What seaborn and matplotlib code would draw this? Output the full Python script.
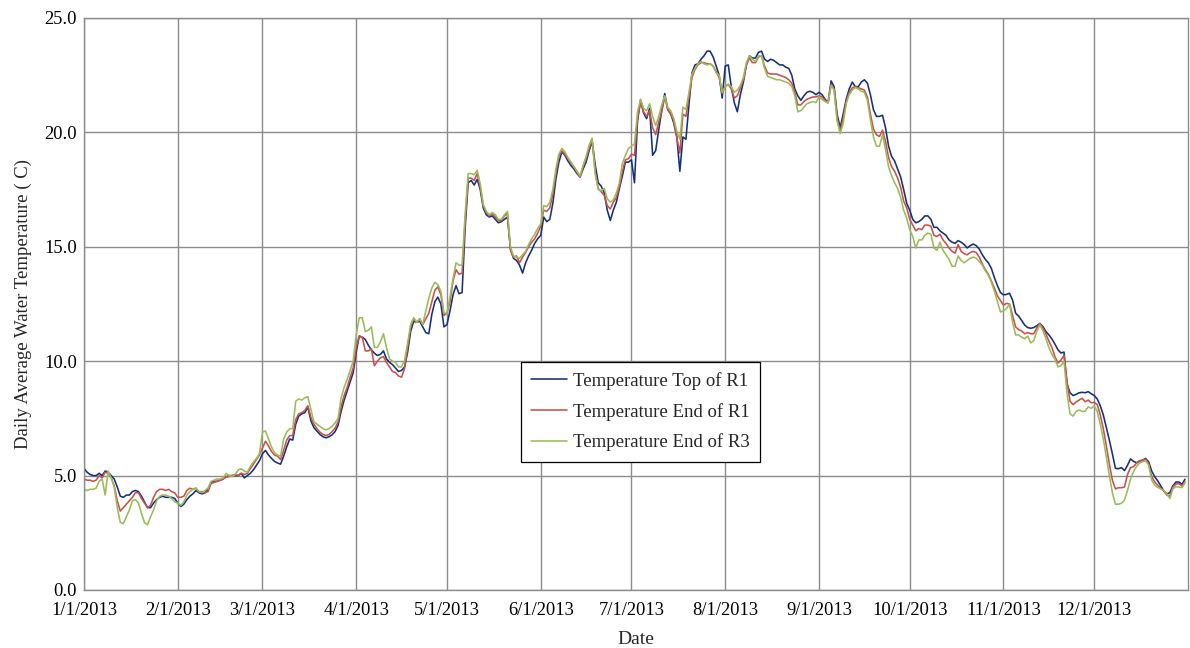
import numpy as np
import pandas as pd
import matplotlib
matplotlib.use("Agg")
import matplotlib.pyplot as plt
import seaborn as sns

# Daily average water temperatures for 2013 (degrees C), one value per day
START_DATE = "2013-01-01"
END_DATE = "2014-01-01"

SERIES_NAMES = ["Temperature Top of R1", "Temperature End of R1", "Temperature End of R3"]
SERIES_COLORS = ["#13307B", "#C8504D", "#9BBB59"]

MONTH_LABELS = ["1/1/2013", "2/1/2013", "3/1/2013", "4/1/2013", "5/1/2013", "6/1/2013",
                "7/1/2013", "8/1/2013", "9/1/2013", "10/1/2013", "11/1/2013", "12/1/2013"]
Y_TICKS = [0.0, 5.0, 10.0, 15.0, 20.0, 25.0]

TOP_R1 = [
    # Jan
    5.32, 5.15, 5.05, 5.0, 5.0, 5.1, 5.0, 5.2, 5.15, 5.0, 4.85, 4.5, 4.1, 4.05, 4.15, 4.15,
    4.3, 4.35, 4.3, 4.1, 3.85, 3.6, 3.6, 3.8, 3.95, 4.05, 4.1, 4.05, 4.05, 4.05, 4.0,
    # Feb
    3.8, 3.65, 3.75, 3.95, 4.1, 4.2, 4.35, 4.25, 4.2, 4.25, 4.4, 4.7, 4.75, 4.75, 4.8, 4.85,
    4.95, 5.0, 5.0, 5.0, 5.0, 5.1, 4.9, 5.0, 5.1, 5.25, 5.45, 5.65,
    # Mar
    5.95, 6.1, 5.9, 5.75, 5.62, 5.55, 5.5, 5.85, 6.25, 6.6, 6.55, 7.25, 7.6, 7.7, 7.75, 8.0,
    7.4, 7.1, 6.95, 6.8, 6.7, 6.65, 6.7, 6.78, 6.92, 7.2, 7.8, 8.3, 8.7, 9.1, 9.5,
    # Apr
    10.4, 11.1, 11.05, 10.95, 10.7, 10.5, 10.35, 10.25, 10.3, 10.45, 10.1, 9.95, 9.85, 9.7, 9.55,
    9.6, 9.75, 10.4, 11.3, 11.75, 11.7, 11.75, 11.5, 11.25, 11.2, 12.05, 12.6, 12.8, 12.5, 11.5,
    # May
    11.6, 12.2, 12.9, 13.3, 12.95, 13.0, 15.8, 17.8, 17.9, 17.7, 17.95, 17.5, 16.7, 16.4, 16.3,
    16.35, 16.2, 16.05, 16.1, 16.2, 16.3, 14.9, 14.5, 14.4, 14.2, 13.85, 14.3, 14.6, 14.85, 15.15, 15.35,
    # Jun
    15.5, 16.3, 16.1, 16.2, 16.9, 17.95, 18.7, 19.15, 19.0, 18.75, 18.55, 18.4, 18.2, 18.05, 18.4,
    18.7, 19.2, 19.6, 18.6, 17.8, 17.65, 17.35, 16.6, 16.15, 16.6, 16.95, 17.55, 18.1, 18.7, 18.7,
    # Jul
    18.8, 17.8, 20.5, 21.4, 20.85, 20.6, 21.05, 19.0, 19.2, 20.1, 20.95, 21.7, 21.0, 20.8, 20.4,
    19.8, 18.3, 19.8, 19.7, 21.2, 22.6, 22.95, 23.0, 23.2, 23.35, 23.55, 23.55, 23.3, 22.9, 22.5, 21.5,
    # Aug
    22.9, 22.95, 22.0, 21.3, 20.9, 21.65, 22.2, 22.95, 23.35, 23.25, 23.25, 23.5, 23.55, 23.2, 23.1,
    23.2, 23.15, 23.05, 22.95, 22.95, 22.85, 22.8, 22.5, 21.9, 21.6, 21.4, 21.6, 21.75, 21.8, 21.75, 21.65,
    # Sep
    21.75, 21.65, 21.45, 21.3, 22.25, 22.0, 20.8, 20.2, 20.8, 21.45, 21.9, 22.2, 22.0, 22.0, 22.2,
    22.3, 22.15, 21.65, 21.0, 20.7, 20.7, 20.75, 20.2, 19.4, 18.95, 18.75, 18.4, 18.05, 17.5, 16.9,
    # Oct
    16.6, 16.2, 16.05, 16.1, 16.2, 16.35, 16.35, 16.2, 15.85, 15.85, 15.7, 15.6, 15.5, 15.3, 15.2,
    15.15, 15.27, 15.2, 15.1, 14.95, 15.05, 15.12, 15.05, 14.9, 14.65, 14.45, 14.3, 14.05, 13.65, 13.3, 13.0,
    # Nov
    12.9, 12.92, 12.97, 12.67, 12.1, 11.97, 11.78, 11.58, 11.47, 11.44, 11.47, 11.55, 11.65, 11.52, 11.3,
    11.15, 10.97, 10.75, 10.5, 10.36, 10.4, 9.0, 8.62, 8.5, 8.55, 8.62, 8.64, 8.62, 8.67, 8.58,
    # Dec
    8.5, 8.35, 8.05, 7.65, 7.1, 6.55, 5.95, 5.32, 5.3, 5.35, 5.22, 5.45, 5.73, 5.62, 5.56, 5.63,
    5.67, 5.75, 5.6, 5.2, 4.95, 4.77, 4.55, 4.33, 4.2, 4.25, 4.55, 4.72, 4.72, 4.62, 4.84,
]

END_R1 = [
    # Jan
    4.85, 4.8, 4.8, 4.75, 4.8, 5.0, 4.9, 5.15, 5.1, 4.9, 4.55, 3.9, 3.45, 3.6, 3.75, 3.9,
    4.05, 4.25, 4.25, 4.0, 3.8, 3.6, 3.7, 4.05, 4.3, 4.4, 4.4, 4.35, 4.4, 4.3, 4.25,
    # Feb
    4.05, 4.05, 4.1, 4.35, 4.45, 4.4, 4.45, 4.3, 4.3, 4.25, 4.3, 4.65, 4.7, 4.75, 4.8, 4.85,
    4.95, 4.95, 5.0, 5.05, 5.0, 5.1, 5.05, 5.1, 5.3, 5.5, 5.7, 5.9,
    # Mar
    6.2, 6.5, 6.3, 6.05, 5.9, 5.85, 5.7, 6.1, 6.55, 6.75, 6.75, 7.45, 7.7, 7.75, 7.85, 8.05,
    7.55, 7.25, 7.05, 6.9, 6.8, 6.75, 6.8, 6.92, 7.07, 7.35, 8.0, 8.5, 8.85, 9.3, 9.7,
    # Apr
    10.6, 11.1, 11.05, 10.45, 10.45, 10.55, 9.8, 10.0, 10.15, 10.2, 9.95, 9.75, 9.55, 9.5, 9.35,
    9.3, 9.7, 10.6, 11.5, 11.85, 11.7, 11.85, 11.6, 11.85, 12.1, 12.6, 13.1, 13.25, 12.9, 12.0,
    # May
    12.1, 12.6, 13.5, 14.0, 13.8, 13.85, 16.1, 18.0, 18.0, 17.9, 18.2, 17.6, 16.8, 16.5, 16.35,
    16.45, 16.3, 16.15, 16.15, 16.35, 16.45, 14.85, 14.55, 14.6, 14.3, 14.55, 14.75, 15.0, 15.2, 15.35, 15.6,
    # Jun
    15.9, 16.6, 16.55, 16.7, 17.3, 18.2, 18.95, 19.2, 19.05, 18.85, 18.65, 18.5, 18.25, 18.05, 18.5,
    18.85, 19.3, 19.65, 18.3, 17.55, 17.4, 17.25, 16.8, 16.65, 16.95, 17.15, 17.65, 18.3, 18.8, 18.85,
    # Jul
    19.05, 19.0, 20.6, 21.35, 20.9, 20.7, 20.95, 20.2, 19.9, 20.45, 20.9, 21.55, 21.0, 20.8, 20.5,
    19.75, 19.1, 20.8, 20.7, 21.55, 22.4, 22.75, 22.95, 23.05, 23.05, 23.0, 23.0, 22.9, 22.65, 22.4, 21.7,
    # Aug
    22.0, 22.1, 21.9, 21.5, 21.6, 21.95, 22.3, 22.95, 23.25, 23.05, 23.05, 23.3, 23.35, 22.9, 22.6,
    22.55, 22.55, 22.55, 22.5, 22.45, 22.4, 22.3, 22.15, 21.75, 21.2, 21.2, 21.35, 21.45, 21.5, 21.55, 21.55,
    # Sep
    21.6, 21.55, 21.4, 21.3, 22.1, 21.9, 20.6, 20.05, 20.6, 21.35, 21.75, 21.95, 22.0, 21.95, 21.9,
    21.85, 21.55, 20.8, 20.15, 19.9, 19.82, 20.1, 19.6, 18.9, 18.5, 18.3, 18.0, 17.6, 17.0, 16.7,
    # Oct
    16.2, 15.95, 15.7, 15.8, 15.75, 15.95, 15.95, 15.9, 15.5, 15.45, 15.55, 15.3, 15.15, 14.95, 14.8,
    14.72, 15.1, 14.8, 14.7, 14.65, 14.75, 14.8, 14.75, 14.55, 14.25, 14.0, 13.8, 13.5, 13.2, 12.85, 12.65,
    # Nov
    12.45, 12.53, 12.5, 12.0, 11.5, 11.38, 11.32, 11.2, 11.25, 11.2, 11.2, 11.45, 11.65, 11.45, 11.2,
    10.88, 10.6, 10.2, 9.92, 10.05, 10.25, 9.1, 8.25, 8.1, 8.22, 8.3, 8.38, 8.23, 8.3, 8.18,
    # Dec
    8.2, 8.1, 7.65, 7.05, 6.3, 5.5, 4.8, 4.42, 4.47, 4.47, 4.5, 5.05, 5.35, 5.39, 5.55, 5.65,
    5.68, 5.72, 5.5, 4.95, 4.72, 4.58, 4.45, 4.33, 4.15, 4.1, 4.5, 4.63, 4.65, 4.55, 4.74,
]

END_R3 = [
    # Jan
    4.4, 4.35, 4.4, 4.4, 4.45, 4.75, 4.85, 4.15, 5.2, 4.9, 4.5, 3.6, 2.95, 2.9, 3.2, 3.5,
    3.9, 3.95, 3.8, 3.35, 2.95, 2.85, 3.2, 3.5, 3.9, 4.1, 4.15, 4.15, 4.1, 4.0, 3.85,
    # Feb
    3.8, 3.7, 3.85, 4.15, 4.3, 4.4, 4.45, 4.3, 4.25, 4.35, 4.45, 4.75, 4.8, 4.85, 4.85, 4.9,
    5.1, 5.0, 4.95, 5.05, 5.25, 5.3, 5.2, 5.15, 5.4, 5.6, 5.75, 5.95,
    # Mar
    6.9, 6.95, 6.6, 6.25, 6.0, 5.9, 5.85, 6.6, 6.9, 7.05, 7.05, 8.25, 8.35, 8.3, 8.4, 8.45,
    7.9, 7.35, 7.25, 7.15, 7.05, 7.0, 7.05, 7.15, 7.3, 7.5, 8.4, 8.85, 9.2, 9.6, 10.0,
    # Apr
    11.15, 11.9, 11.9, 11.3, 11.35, 11.5, 10.6, 10.6, 10.85, 11.2, 10.6, 10.1, 10.0, 9.95, 9.75,
    9.75, 10.05, 10.8, 11.6, 11.9, 11.7, 11.85, 11.6, 12.2, 12.75, 13.2, 13.45, 13.35, 13.05, 12.1,
    # May
    12.1, 12.8, 13.6, 14.3, 14.2, 14.2, 16.4, 18.2, 18.2, 18.15, 18.35, 17.75, 16.85, 16.55, 16.4,
    16.5, 16.4, 16.2, 16.2, 16.4, 16.55, 15.0, 14.6, 14.55, 14.5, 14.65, 14.8, 15.1, 15.35, 15.55, 15.8,
    # Jun
    16.0, 16.8, 16.75, 16.95, 17.5, 18.4, 19.05, 19.3, 19.15, 18.9, 18.7, 18.5, 18.3, 18.1, 18.55,
    18.95, 19.45, 19.75, 18.2, 17.5, 17.45, 17.55, 17.1, 16.95, 17.05, 17.35, 17.8, 18.65, 19.0, 19.3,
    # Jul
    19.4, 19.5, 20.9, 21.45, 21.05, 20.95, 21.25, 20.7, 20.3, 20.7, 21.2, 21.6, 21.1, 20.95, 20.6,
    20.05, 19.7, 21.1, 21.0, 21.75, 22.55, 22.8, 23.0, 23.1, 23.0, 22.95, 23.0, 22.9, 22.6, 22.5, 21.75,
    # Aug
    22.0, 22.1, 22.0, 21.75, 21.85, 22.05, 22.4, 23.05, 23.35, 23.2, 23.1, 23.35, 23.35, 22.8, 22.45,
    22.4, 22.35, 22.3, 22.3, 22.25, 22.2, 22.15, 22.0, 21.6, 20.9, 20.95, 21.1, 21.25, 21.3, 21.35, 21.3,
    # Sep
    21.55, 21.45, 21.35, 21.3, 22.05, 21.85, 20.5, 19.95, 20.4, 21.25, 21.65, 21.85, 21.95, 21.9, 21.8,
    21.75, 21.4, 20.55, 19.8, 19.4, 19.4, 19.9, 19.25, 18.5, 18.1, 17.8, 17.55, 17.15, 16.6, 16.25,
    # Oct
    15.75, 15.45, 14.95, 15.3, 15.3, 15.5, 15.6, 15.55, 14.95, 14.85, 15.2, 14.85, 14.65, 14.45, 14.15,
    14.15, 14.6, 14.4, 14.3, 14.4, 14.5, 14.55, 14.5, 14.35, 14.2, 13.95, 13.75, 13.45, 13.05, 12.6, 12.15,
    # Nov
    12.2, 12.3, 12.5, 11.7, 11.15, 11.15, 11.05, 10.98, 11.1, 10.8, 10.9, 11.3, 11.58, 11.35, 11.0,
    10.6, 10.3, 10.1, 9.75, 9.8, 10.0, 8.6, 7.7, 7.6, 7.8, 7.87, 7.8, 7.82, 8.0, 7.94,
    # Dec
    8.05, 7.8, 7.25, 6.6, 5.8, 5.0, 4.25, 3.75, 3.75, 3.79, 3.93, 4.35, 4.85, 5.18, 5.4, 5.55,
    5.61, 5.65, 5.45, 4.8, 4.58, 4.48, 4.42, 4.35, 4.2, 4.0, 4.42, 4.52, 4.5, 4.47, 4.68,
]

n_days = len(TOP_R1)
dates = pd.date_range(START_DATE, periods=n_days, freq="D")
df = pd.DataFrame({
    "Date": np.tile(dates, 3),
    "Temperature": TOP_R1 + END_R1 + END_R3,
    "Series": np.repeat(SERIES_NAMES, n_days),
})

sns.set_theme(style="white")
plt.rcParams["font.family"] = ["Liberation Serif", "DejaVu Serif"]

fig = plt.figure(figsize=(11.9, 6.48), dpi=100)
ax = fig.add_axes([84 / 1190, 1 - 590 / 648, 1104 / 1190, 572 / 648])

sns.lineplot(data=df, x="Date", y="Temperature", hue="Series", hue_order=SERIES_NAMES,
             palette=SERIES_COLORS, linewidth=1.15, ax=ax)

month_ticks = pd.to_datetime(MONTH_LABELS, format="%m/%d/%Y")
ax.set_xlim(pd.Timestamp(START_DATE), pd.Timestamp(END_DATE))
ax.set_ylim(Y_TICKS[0], Y_TICKS[-1])
ax.set_xticks(month_ticks)
ax.set_xticklabels(MONTH_LABELS, fontsize=13.3, color="black")
ax.set_yticks(Y_TICKS)
ax.set_yticklabels([f"{v:.1f}" for v in Y_TICKS], fontsize=13.3, color="black")
ax.tick_params(axis="both", length=3, width=0.8, color="#808080")
ax.tick_params(axis="y", pad=2)
ax.tick_params(axis="x", pad=5.5)

ax.grid(True, color="#8c8c8c", linewidth=1.0)
ax.set_axisbelow(True)
for side in ["left", "bottom", "right", "top"]:
    ax.spines[side].set_color("#8c8c8c")
    ax.spines[side].set_linewidth(1.0)

ax.set_xlabel("Date", fontsize=14, labelpad=9)
ax.set_ylabel("Daily Average Water Temperature ( C)", fontsize=13.5, labelpad=9)

handles, labels = ax.get_legend_handles_labels()
leg = ax.legend(handles, labels, loc="upper left", bbox_to_anchor=(0.396, 0.399),
                frameon=True, fancybox=False, edgecolor="black", framealpha=1.0,
                fontsize=13.5, handlelength=1.9, handletextpad=0.3, labelspacing=0.68,
                borderpad=0.55, borderaxespad=0.0)
leg.get_frame().set_linewidth(0.9)

fig.savefig("out.png", dpi=100)
